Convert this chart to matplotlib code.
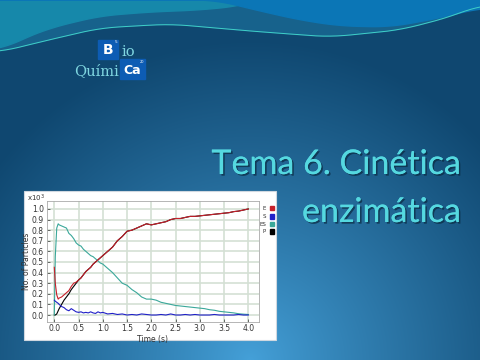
import numpy as np
import matplotlib
matplotlib.use("Agg")
import matplotlib.pyplot as plt
from matplotlib.patches import Rectangle
import matplotlib.patheffects as pe

# ---------------- data ----------------
time_s = [0.0, 0.02, 0.05, 0.08, 0.1, 0.15, 0.2, 0.25, 0.3, 0.35, 0.4, 0.45, 0.5,
          0.55, 0.6, 0.65, 0.7, 0.75, 0.8, 0.85, 0.9, 0.95, 1.0,
          1.1, 1.2, 1.3, 1.4, 1.5, 1.6, 1.7, 1.8, 1.9, 2.0,
          2.1, 2.2, 2.3, 2.4, 2.5, 2.6, 2.7, 2.8, 2.9, 3.0,
          3.1, 3.2, 3.3, 3.4, 3.5, 3.6, 3.7, 3.8, 3.9, 4.0]
E_vals = [0.45, 0.30, 0.19, 0.15, 0.16, 0.17, 0.19, 0.21, 0.23, 0.27, 0.30, 0.31, 0.33,
          0.35, 0.38, 0.41, 0.43, 0.45, 0.48, 0.50, 0.52, 0.54, 0.56,
          0.60, 0.64, 0.70, 0.74, 0.79, 0.80, 0.82, 0.84, 0.86, 0.85,
          0.86, 0.87, 0.88, 0.90, 0.91, 0.91, 0.92, 0.93, 0.93, 0.935,
          0.94, 0.945, 0.95, 0.955, 0.96, 0.965, 0.975, 0.98, 0.99, 1.0]
S_vals = [0.14, 0.13, 0.12, 0.11, 0.10, 0.08, 0.07, 0.05, 0.04, 0.06, 0.045, 0.03, 0.025,
          0.03, 0.02, 0.025, 0.02, 0.03, 0.02, 0.015, 0.03, 0.02, 0.025,
          0.01, 0.015, 0.005, 0.01, 0.0, 0.005, 0.0, 0.01, 0.005, 0.0,
          0.0, 0.005, 0.0, 0.01, 0.0, 0.0, 0.005, 0.0, 0.005, 0.0,
          0.0, 0.0, 0.005, 0.0, 0.0, 0.0, 0.0, 0.005, 0.0, 0.0]
ES_vals = [0.0, 0.55, 0.82, 0.86, 0.85, 0.84, 0.83, 0.82, 0.77, 0.75, 0.72, 0.68, 0.66,
           0.65, 0.62, 0.60, 0.58, 0.56, 0.55, 0.53, 0.51, 0.49, 0.48,
           0.44, 0.40, 0.35, 0.30, 0.28, 0.24, 0.21, 0.17, 0.15, 0.15,
           0.14, 0.12, 0.11, 0.10, 0.09, 0.085, 0.08, 0.075, 0.07, 0.065,
           0.06, 0.05, 0.045, 0.035, 0.03, 0.025, 0.02, 0.012, 0.008, 0.005]
P_vals = [0.0, 0.0, 0.01, 0.04, 0.06, 0.10, 0.14, 0.17, 0.20, 0.24, 0.27, 0.30, 0.33,
          0.35, 0.38, 0.41, 0.43, 0.45, 0.48, 0.50, 0.52, 0.54, 0.56,
          0.60, 0.64, 0.70, 0.74, 0.79, 0.80, 0.82, 0.84, 0.86, 0.85,
          0.86, 0.87, 0.88, 0.90, 0.91, 0.91, 0.92, 0.93, 0.93, 0.935,
          0.94, 0.945, 0.95, 0.955, 0.96, 0.965, 0.975, 0.98, 0.99, 1.0]
series_names = ["E", "S", "ES", "P"]
series_colors = ["#c8202a", "#2020c8", "#3aa89a", "#000000"]
x_ticks = [0.0, 0.5, 1.0, 1.5, 2.0, 2.5, 3.0, 3.5, 4.0]
y_ticks = [0.0, 0.1, 0.2, 0.3, 0.4, 0.5, 0.6, 0.7, 0.8, 0.9, 1.0]

W, H = 480, 360
fig = plt.figure(figsize=(4.8, 3.6), dpi=100)

# ---------------- slide background ----------------
bg = fig.add_axes([0, 0, 1, 1], zorder=0)
bg.set_xlim(0, W)
bg.set_ylim(H, 0)
bg.axis("off")
yy, xx = np.mgrid[0:H, 0:W]
d = np.sqrt(((xx - 250) / 320.0) ** 2 + ((yy - 360) / 320.0) ** 2)
d = np.clip(d, 0, 1) ** 0.9
light = np.array([0.27, 0.63, 0.85])
dark = np.array([0.06, 0.28, 0.44])
img = light[None, None, :] * (1 - d[..., None]) + dark[None, None, :] * d[..., None]
bg.imshow(img, extent=(0, W, H, 0), aspect="auto", zorder=0)


def smooth_curve(px, py, xs, k=41):
    y = np.interp(xs, px, py)
    pad = k // 2
    yp = np.concatenate([np.full(pad, y[0]), y, np.full(pad, y[-1])])
    return np.convolve(yp, np.ones(k) / k, mode="valid")


# top waves
xs = np.linspace(0, W, 481)
c1 = smooth_curve([0, 40, 100, 170, 250, 330, 400, 450, 480],
                  [52, 42, 28, 24, 31, 37, 30, 17, 5], xs)
c3 = smooth_curve([0, 25, 50, 100, 150, 200, 240, 260, 480],
                  [50, 38, 28, 16, 12, 10, 6, 0, 0], xs)
c2 = smooth_curve([0, 215, 260, 300, 340, 390, 440, 480],
                  [0, 0, 11, 20, 26, 27, 18, 8], xs)
bg.fill_between(xs, 0, c1, color="#17628c", zorder=1)
bg.fill_between(xs, 0, c3, color="#1688aa", zorder=1.1)
bg.fill_between(xs, 0, c2, color="#0b76b6", zorder=1.2)
bg.plot(xs, c1, color="#3fd0c8", lw=0.7, zorder=1.3)

# logo
bg.add_patch(Rectangle((98, 40), 20, 19, color="#0d5cb4", zorder=2))
bg.add_patch(Rectangle((120, 59), 25, 20, color="#0d5cb4", zorder=2))
bg.text(108, 50, "B", color="white", fontsize=10, fontweight="bold",
        ha="center", va="center", family="DejaVu Sans", zorder=3)
bg.text(116, 42, "5", color="white", fontsize=3, ha="center", va="center", zorder=3)
bg.text(122, 56, "io", color="#7fd6e0", fontsize=10.5, family="DejaVu Serif",
        ha="left", va="baseline", zorder=3)
bg.text(74, 75, "Quími", color="#7fd6e0", fontsize=10.5, family="DejaVu Serif",
        ha="left", va="baseline", zorder=3)
bg.text(132, 70, "Ca", color="white", fontsize=9, fontweight="bold",
        ha="center", va="center", family="DejaVu Sans", zorder=3)
bg.text(142, 62, "20", color="white", fontsize=2.5, ha="center", va="center", zorder=3)

# title
shadow = [pe.withSimplePatchShadow(offset=(1.2, -1.2), shadow_rgbFace="#0a2a40", alpha=0.7), pe.Normal()]
bg.text(461, 174, "Tema 6. Cinética", color="#55d8e0", fontsize=24.5, family="Lato",
        ha="right", va="baseline", zorder=3, path_effects=shadow)
bg.text(461, 222, "enzimática", color="#55d8e0", fontsize=24.5, family="Lato",
        ha="right", va="baseline", zorder=3, path_effects=shadow)

# white chart box
bg.add_patch(Rectangle((24, 191), 252, 149, facecolor="white", edgecolor="#d0d8e0",
                       lw=0.8, zorder=4))
bg.text(27, 198, r"x10$^3$", color="#333333", fontsize=5, ha="left", va="center", zorder=5)

# ---------------- chart ----------------
ax = fig.add_axes([46.7 / W, 1 - 321.7 / H, (259 - 46.7) / W, (321.7 - 201) / H], zorder=5)
ax.set_facecolor("white")
ax.set_xlim(-0.157, 4.22)
ax.set_ylim(-0.063, 1.075)
ax.set_xticks(x_ticks)
ax.set_yticks(y_ticks)
ax.set_xticklabels([f"{v:.1f}" for v in x_ticks])
ax.set_yticklabels([f"{v:.1f}" for v in y_ticks])
ax.tick_params(labelsize=5.5, colors="#333333", direction="in", length=2, width=0.5, pad=2)
ax.grid(True, color="#d4e0d4", lw=1.2)
ax.set_axisbelow(True)
for s in ax.spines.values():
    s.set_color("#aaaaaa")
    s.set_linewidth(0.6)
ax.set_xlabel("Time (s)", fontsize=5.5, labelpad=1, color="#333333")
ax.set_ylabel("No. of Particles", fontsize=5.5, color="#333333")
ax.yaxis.set_label_coords(-0.075, 0.5)

ax.plot(time_s, P_vals, color=series_colors[3], lw=0.8, zorder=2)
ax.plot(time_s, ES_vals, color=series_colors[2], lw=0.8, zorder=3)
ax.plot(time_s, S_vals, color=series_colors[1], lw=0.8, zorder=4)
ax.plot(time_s, E_vals, color=series_colors[0], lw=0.8, zorder=5)

# legend on the right
leg_y = [208, 216.5, 224, 231.5]
for name, col, y in zip(series_names, series_colors, leg_y):
    bg.text(266, y, name, fontsize=4, color="#333333", ha="right", va="center", zorder=6)
    bg.add_patch(Rectangle((269.5, y - 2.2), 4.4, 4.4, color=col, zorder=6))

fig.savefig("out.png", dpi=100)
